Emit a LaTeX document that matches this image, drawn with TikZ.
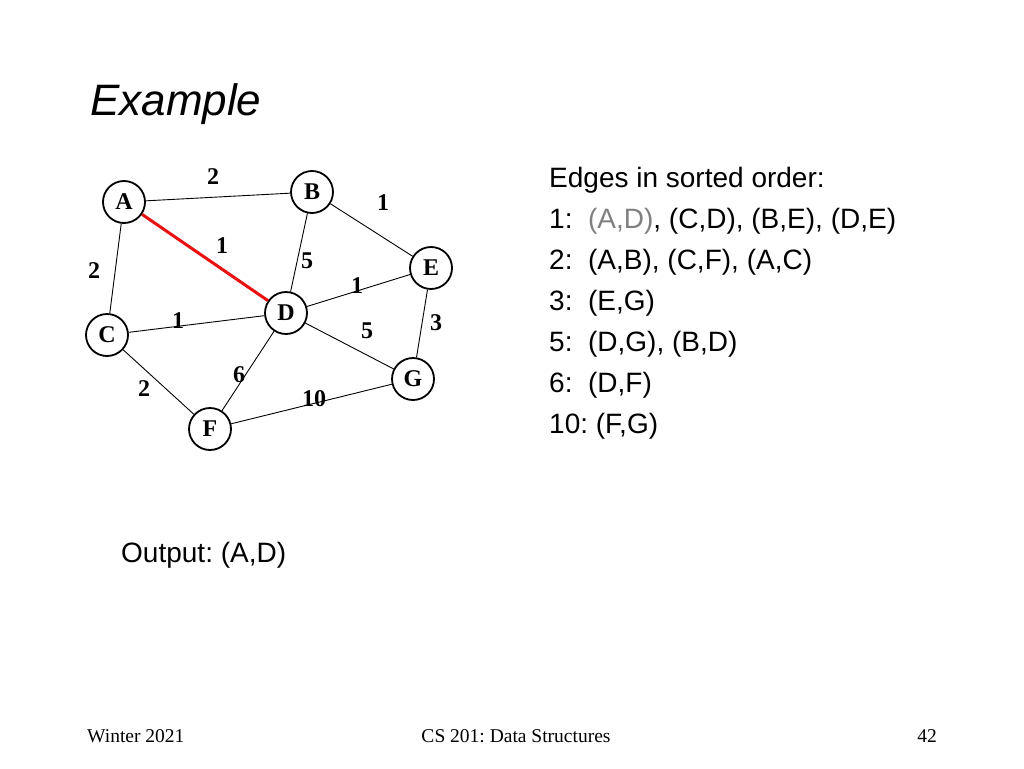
\documentclass[tikz,border=0pt]{standalone}
\usepackage{fontspec}
\setmainfont{Liberation Serif}
\setsansfont{Liberation Sans}
\definecolor{gtxt}{HTML}{808080}
\definecolor{hired}{HTML}{E81010}
\frenchspacing
\begin{document}
\begin{tikzpicture}[x=1pt,y=-1pt,
  vtx/.style={circle,draw,line width=1.8pt,fill=white,minimum size=42pt,inner sep=0pt,font=\fontsize{24}{24}\selectfont\bfseries},
  wt/.style={font=\fontsize{24}{24}\selectfont\bfseries,inner sep=0pt},
  edge/.style={line width=0.9pt},
  sel/.style={line width=3pt,hired},
  body/.style={font=\sffamily\fontsize{28}{28}\selectfont,anchor=base west,inner sep=0pt},
  foot/.style={font=\fontsize{19.5}{19.5}\selectfont,anchor=base,inner sep=0pt}]
\useasboundingbox (0,0) rectangle (1024,768);
\fill[white] (0,0) rectangle (1024,768);
% title
\node[anchor=base west,inner sep=0pt,font=\sffamily\itshape\fontsize{44}{44}\selectfont] (title) at (90,115) {Example};
% vertices
\coordinate (pA) at (124,202);
\coordinate (pB) at (312,192);
\coordinate (pE) at (431,268);
\coordinate (pD) at (286,313);
\coordinate (pC) at (107,335);
\coordinate (pG) at (413,379);
\coordinate (pF) at (210,429);
\node[vtx] (A) at (pA) {A};
\node[vtx] (B) at (pB) {B};
\node[vtx] (E) at (pE) {E};
\node[vtx] (D) at (pD) {D};
\node[vtx] (C) at (pC) {C};
\node[vtx] (G) at (pG) {G};
\node[vtx] (F) at (pF) {F};
% edges
\draw[edge] (A) -- (B);
\draw[edge] (B) -- (E);
\draw[sel] (A) -- (D);
\draw[edge] (B) -- (D);
\draw[edge] (A) -- (C);
\draw[edge] (D) -- (E);
\draw[edge] (E) -- (G);
\draw[edge] (C) -- (D);
\draw[edge] (D) -- (G);
\draw[edge] (D) -- (F);
\draw[edge] (C) -- (F);
\draw[edge] (F) -- (G);
% weights
\node[wt] (wAB) at (213,177) {2};
\node[wt] (wBE) at (383,203) {1};
\node[wt] (wAD) at (222,246) {1};
\node[wt] (wBD) at (307,261) {5};
\node[wt] (wAC) at (94,271) {2};
\node[wt] (wDE) at (357,286) {1};
\node[wt] (wEG) at (436,323) {3};
\node[wt] (wCD) at (178,321) {1};
\node[wt] (wDG) at (367,331) {5};
\node[wt] (wDF) at (239,375) {6};
\node[wt] (wCF) at (144,389) {2};
\node[wt] (wFG) at (314,399) {10};
% sorted list
\node[body] (l0) at (549,187) {Edges in sorted order:};
\node[body] (l1) at (549,228) {1:\ \ \textcolor{gtxt}{(A,D)}, (C,D), (B,E), (D,E)};
\node[body] (l2) at (549,269) {2:\ \ (A,B), (C,F), (A,C)};
\node[body] (l3) at (549,310) {3:\ \ (E,G)};
\node[body] (l5) at (549,351) {5:\ \ (D,G), (B,D)};
\node[body] (l6) at (549,392) {6:\ \ (D,F)};
\node[body] (l10) at (549,433) {10: (F,G)};
% output
\node[body] (out) at (121,562) {Output: (A,D)};
% footer
\node[foot,anchor=base west] (f1) at (87,742) {Winter 2021};
\node[foot] (f2) at (516,742) {CS 201: Data Structures};
\node[foot,anchor=base east] (f3) at (937,742) {42};
\end{tikzpicture}
\end{document}
